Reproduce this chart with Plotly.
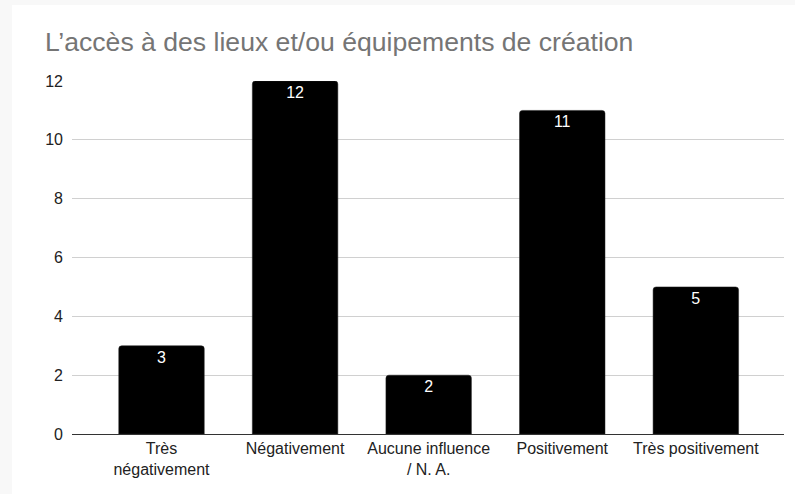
import plotly.graph_objects as go

categories = ["Très<br>négativement", "Négativement", "Aucune influence<br>/ N. A.", "Positivement", "Très positivement"]
values = [3, 12, 2, 11, 5]
y_ticks = [0, 2, 4, 6, 8, 10, 12]
title_text = "L’accès à des lieux et/ou équipements de création"

W, H = 795, 494
ml, mr, mt, mb = 72, 11, 81, 60
pw = W - ml - mr
ph = H - mt - mb


def px_x(p):
    return (p - ml) / pw


def px_y(p):
    return (H - mb - p) / ph


fig = go.Figure(go.Bar(
    x=list(range(len(categories))),
    y=values,
    width=0.64,
    marker=dict(color="#000000", line=dict(color="#222222", width=0.5)),
    text=[str(v) for v in values],
    textposition="inside",
    insidetextanchor="end",
    textangle=0,
    constraintext="none",
    insidetextfont=dict(color="#ffffff", size=16, family="Arial, Liberation Sans, sans-serif"),
    hoverinfo="skip",
))

gray = "#f8f8f8"
fig.update_layout(
    width=W, height=H,
    margin=dict(l=ml, r=mr, t=mt, b=mb),
    paper_bgcolor="#ffffff",
    plot_bgcolor="rgba(0,0,0,0)",
    barcornerradius=3,
    font=dict(family="Arial, Liberation Sans, sans-serif", size=16, color="#222222"),
    title=dict(text=title_text, x=45 / W, xanchor="left", xref="container",
               y=1 - 42 / H, yanchor="middle", yref="container",
               font=dict(size=26.6, color="#757575")),
    showlegend=False,
    shapes=[
        dict(type="rect", xref="paper", yref="paper", layer="below",
             x0=px_x(0), x1=px_x(12), y0=px_y(H), y1=px_y(0),
             fillcolor=gray, line=dict(width=0)),
        dict(type="rect", xref="paper", yref="paper", layer="below",
             x0=px_x(0), x1=px_x(W), y0=px_y(5), y1=px_y(0),
             fillcolor=gray, line=dict(width=0)),
    ],
)

fig.update_xaxes(
    tickmode="array", tickvals=list(range(len(categories))), ticktext=categories,
    range=[-0.67, 4.66], showgrid=False, zeroline=False,
    showline=True, linecolor="#333333", linewidth=1, ticks="",
    tickfont=dict(size=16, color="#222222"),
)
fig.update_yaxes(
    range=[0, 12], tickvals=y_ticks, showgrid=True, gridcolor="#d0d0d0", gridwidth=1,
    zeroline=False, showline=False, ticks="", ticklabelstandoff=8,
    tickfont=dict(size=16, color="#222222"),
)

fig.write_html("out.html", config={"displayModeBar": False},
               post_script="document.body.style.margin='0';document.body.style.overflow='hidden';")
